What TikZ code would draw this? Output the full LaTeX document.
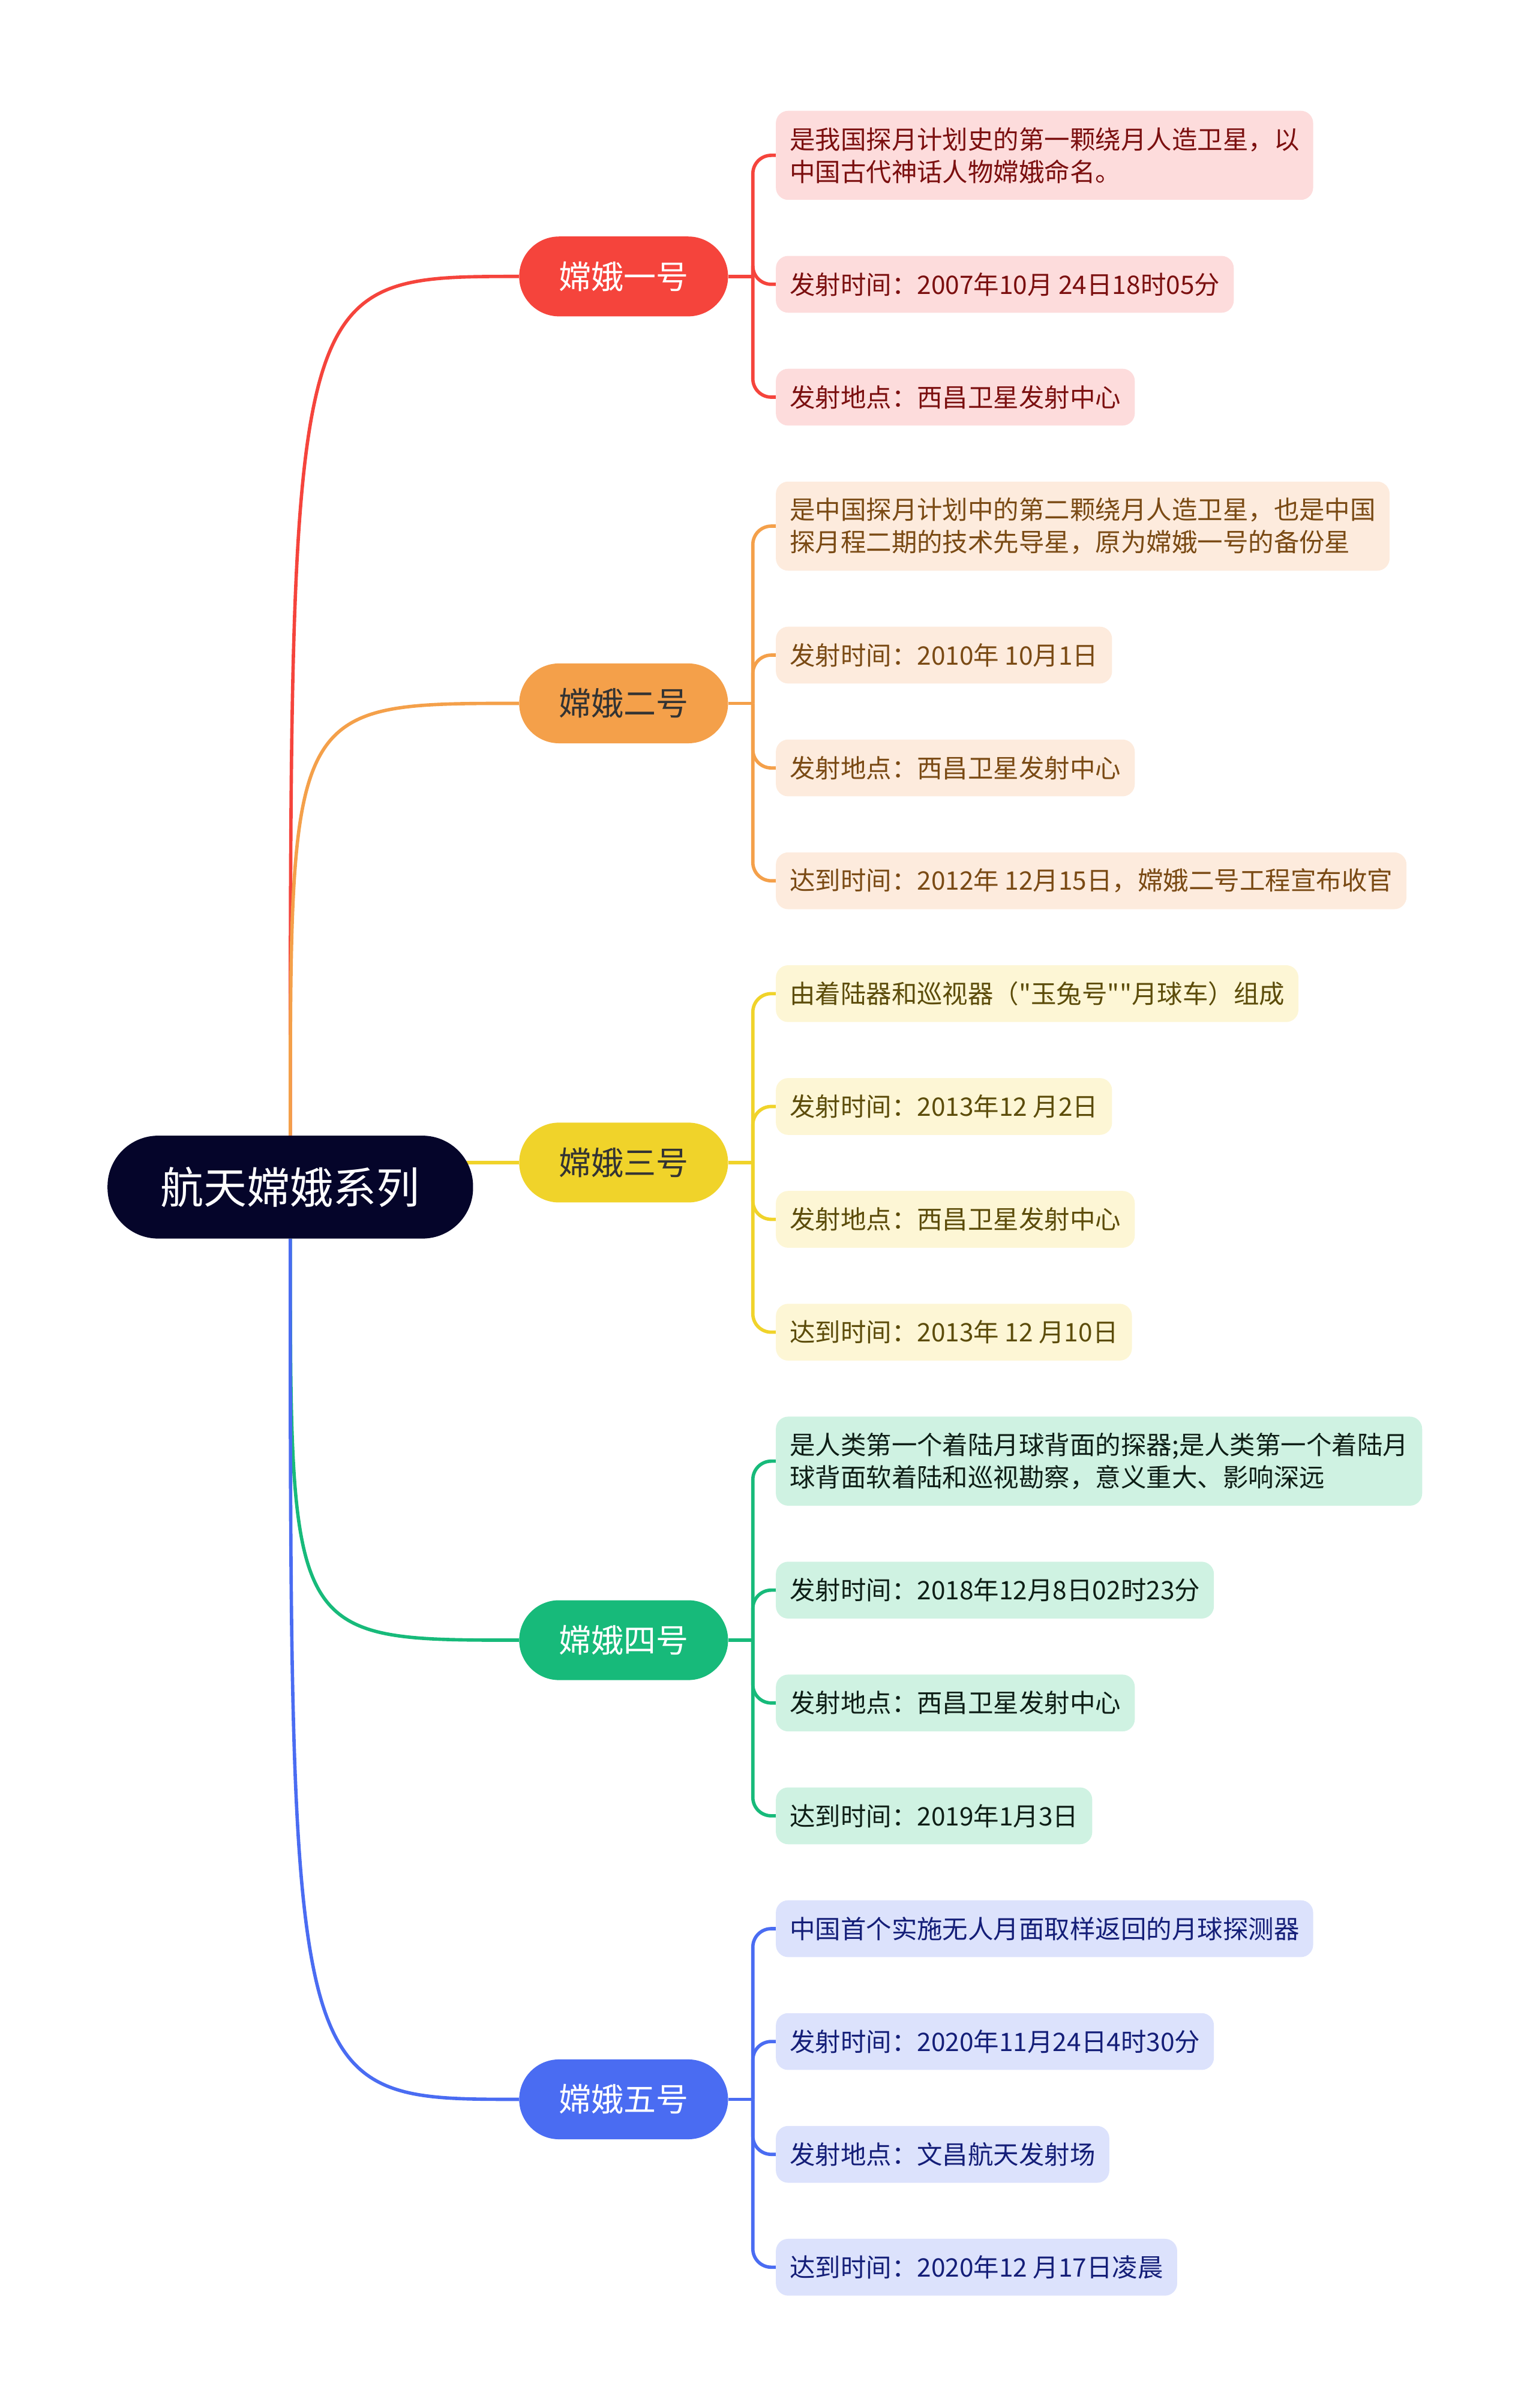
\documentclass[tikz,border=0pt]{standalone}
\usepackage{fontspec}
\setmainfont{Noto Sans CJK SC}[Ligatures=TeXOff]
\usepackage{tikz}
\usetikzlibrary{positioning,backgrounds}

\definecolor{rootc}{HTML}{05052A}
\definecolor{c1}{HTML}{F5443C}
\definecolor{c2}{HTML}{F4A04A}
\definecolor{c3}{HTML}{F0D32A}
\definecolor{c4}{HTML}{17BA7A}
\definecolor{c5}{HTML}{4A6CF2}
\definecolor{f1}{HTML}{FDDCDC}
\definecolor{f2}{HTML}{FDEBDD}
\definecolor{f3}{HTML}{FDF6D5}
\definecolor{f4}{HTML}{CFF2E2}
\definecolor{f5}{HTML}{DCE2FC}
\definecolor{t1}{HTML}{7B0F0F}
\definecolor{t2}{HTML}{7A4A14}
\definecolor{t3}{HTML}{5C4C0A}
\definecolor{t4}{HTML}{0E1E16}
\definecolor{t5}{HTML}{141E78}

\begin{document}
\begin{tikzpicture}[x=0.5mm, y=-0.5mm,
  root/.style={fill=rootc, text=white, rounded corners=16.5mm, minimum width=119mm,
               minimum height=33.5mm, font=\fontsize{40pt}{48pt}\selectfont},
  br/.style={fill=#1, rounded corners=13mm, minimum width=68mm, minimum height=26mm,
             font=\fontsize{30pt}{36pt}\selectfont},
  lf/.style={fill=#1, rounded corners=4mm, align=left, inner xsep=4.5mm, inner ysep=2mm,
             minimum height=18.5mm, font=\fontsize{23.6pt}{30pt}\selectfont},
  two/.style={minimum height=29mm},
  nxt/.style={below=18.1mm of #1.south west, anchor=north west},
  ln/.style={line width=1.1mm, draw=#1}
]
\useasboundingbox (0,0) rectangle (1000,1568);

\node[root] (root) at (189,773) {航天嫦娥系列};

\node[br=c1, text=white] (b1) at (406,180) {嫦娥一号};
\node[br=c2, text=black!80] (b2) at (406,458) {嫦娥二号};
\node[br=c3, text=black!80] (b3) at (406,757) {嫦娥三号};
\node[br=c4, text=white] (b4) at (406,1068) {嫦娥四号};
\node[br=c5, text=white] (b5) at (406,1367) {嫦娥五号};

\node[lf=f1, two, text=t1, anchor=north west] (l11) at (505,72) {是我国探月计划史的第一颗绕月人造卫星，以\\中国古代神话人物嫦娥命名。};
\node[lf=f1, text=t1, nxt=l11] (l12) {发射时间：2007年10月 24日18时05分};
\node[lf=f1, text=t1, nxt=l12] (l13) {发射地点：西昌卫星发射中心};

\node[lf=f2, two, text=t2, nxt=l13] (l21) {是中国探月计划中的第二颗绕月人造卫星，也是中国\\探月程二期的技术先导星，原为嫦娥一号的备份星};
\node[lf=f2, text=t2, nxt=l21] (l22) {发射时间：2010年 10月1日};
\node[lf=f2, text=t2, nxt=l22] (l23) {发射地点：西昌卫星发射中心};
\node[lf=f2, text=t2, nxt=l23] (l24) {达到时间：2012年 12月15日，嫦娥二号工程宣布收官};

\node[lf=f3, text=t3, nxt=l24] (l31) {由着陆器和巡视器（"玉兔号""月球车）组成};
\node[lf=f3, text=t3, nxt=l31] (l32) {发射时间：2013年12 月2日};
\node[lf=f3, text=t3, nxt=l32] (l33) {发射地点：西昌卫星发射中心};
\node[lf=f3, text=t3, nxt=l33] (l34) {达到时间：2013年 12 月10日};

\node[lf=f4, two, text=t4, nxt=l34] (l41) {是人类第一个着陆月球背面的探器;是人类第一个着陆月\\球背面软着陆和巡视勘察，意义重大、影响深远};
\node[lf=f4, text=t4, nxt=l41] (l42) {发射时间：2018年12月8日02时23分};
\node[lf=f4, text=t4, nxt=l42] (l43) {发射地点：西昌卫星发射中心};
\node[lf=f4, text=t4, nxt=l43] (l44) {达到时间：2019年1月3日};

\node[lf=f5, text=t5, nxt=l44] (l51) {中国首个实施无人月面取样返回的月球探测器};
\node[lf=f5, text=t5, nxt=l51] (l52) {发射时间：2020年11月24日4时30分};
\node[lf=f5, text=t5, nxt=l52] (l53) {发射地点：文昌航天发射场};
\node[lf=f5, text=t5, nxt=l53] (l54) {达到时间：2020年12 月17日凌晨};

\begin{scope}[on background layer]
\draw[ln=c1] (root.north) .. controls (root.north |- b1.west) .. (b1.west);
\draw[ln=c2] (root.north) .. controls (root.north |- b2.west) .. (b2.west);
\draw[ln=c3] (root.center |- b3.west) -- (b3.west);
\draw[ln=c4] (root.south) .. controls (root.south |- b4.west) .. (b4.west);
\draw[ln=c5] (root.south) .. controls (root.south |- b5.west) .. (b5.west);

\draw[ln=c1] (b1.east) -- ++(16,0) coordinate (j1);
\draw[ln=c2] (b2.east) -- ++(16,0) coordinate (j2);
\draw[ln=c3] (b3.east) -- ++(16,0) coordinate (j3);
\draw[ln=c4] (b4.east) -- ++(16,0) coordinate (j4);
\draw[ln=c5] (b5.east) -- ++(16,0) coordinate (j5);

\foreach \k in {1,2,3}
  \draw[ln=c1, rounded corners=6mm] (j1) |- (l1\k.west);
\foreach \k in {1,2,3,4}{
  \draw[ln=c2, rounded corners=6mm] (j2) |- (l2\k.west);
  \draw[ln=c3, rounded corners=6mm] (j3) |- (l3\k.west);
  \draw[ln=c4, rounded corners=6mm] (j4) |- (l4\k.west);
  \draw[ln=c5, rounded corners=6mm] (j5) |- (l5\k.west);
}
\end{scope}
\end{tikzpicture}
\end{document}
